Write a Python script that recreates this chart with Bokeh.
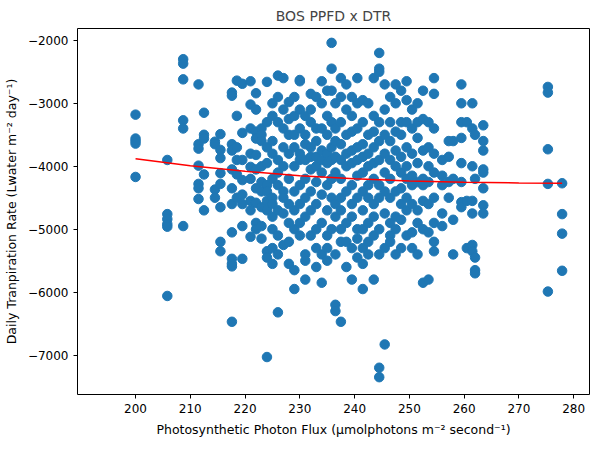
from bokeh.plotting import figure
from bokeh.models import ColumnDataSource, FixedTicker
from bokeh.embed import file_html
from bokeh.resources import INLINE

# photon flux columns and daily transpiration values
cols = {
    200.0: [-3180, -3560, -3600, -3640, -4170],
    205.8: [-3900, -4760, -4840, -4920, -4960, -6060],
    208.7: [-2300, -2370, -2620, -3270, -3400, -4950],
    211.5: [-2700, -3650, -3720, -3990, -4280, -4350, -4520],
    212.5: [-3150, -3500, -3560, -4130, -4700],
    214.5: [-3610, -3650, -4370, -4500],
    215.5: [-3490, -3740, -3870, -4110, -4280, -4650, -5200, -5350],
    217.6: [-2830, -2880, -3650, -3750, -4050, -4350, -4600, -5050, -5470, -5550, -5590, -6470],
    218.5: [-2640, -3200, -3700, -3900, -4130, -4500],
    219.5: [-2690, -3470, -3900, -4220, -4450, -4600, -4950, -5470],
    221.0: [-2650, -3020, -3400, -3800, -4010, -4200, -4550, -4700, -5120],
    222.0: [-2840, -3100, -3450, -3560, -3820, -4050, -4350, -4580, -4900, -5000],
    223.0: [-3400, -3500, -3600, -4000, -4250, -4400, -4650, -4950, -5150],
    224.0: [-2660, -3300, -3700, -3950, -4300, -4400, -4550, -4700, -5350, -5450, -7030],
    225.0: [-3000, -3200, -3600, -3800, -4200, -4500, -4600, -4800, -5000, -5300, -5550],
    226.0: [-2560, -2900, -3300, -3900, -4100, -4300, -4700, -5100, -5400, -6320],
    227.0: [-2600, -3100, -3400, -3700, -4000, -4400, -4500, -4750, -5250],
    228.0: [-2980, -3250, -3500, -3800, -4200, -4600, -4900, -5200, -5550],
    229.0: [-2900, -3200, -3500, -3700, -4000, -4400, -4700, -5000, -5650, -5950],
    230.0: [-2630, -2650, -3100, -3400, -3800, -3900, -4300, -4600, -4900, -5100],
    231.0: [-3200, -3500, -3650, -3900, -4200, -4500, -4800, -5400, -5500, -5800],
    232.0: [-2850, -3100, -3300, -3700, -3850, -4050, -4400, -4700, -5100],
    233.0: [-2900, -3400, -3600, -3850, -4000, -4250, -4600, -5000, -5300, -5600],
    234.0: [-2650, -3000, -3400, -3750, -3900, -4100, -4450, -4900, -5400, -5850],
    235.0: [-2800, -3200, -3500, -3800, -3950, -4300, -4700, -5100, -5300, -5500],
    235.8: [-2040, -2450, -2800, -3300, -3700, -3900, -4200, -4500, -5000],
    236.5: [-3000, -3400, -3600, -3850, -4100, -4600, -4800, -5400, -6200, -6300],
    237.5: [-2600, -2900, -3300, -3650, -3900, -4200, -4500, -4700, -5000, -5200, -6470],
    238.5: [-2700, -3100, -3500, -3800, -4000, -4400, -4900, -5200, -5600],
    239.5: [-2900, -3200, -3450, -3750, -3950, -4300, -4600, -4800, -5300, -5800],
    240.5: [-2600, -3000, -3400, -3700, -3900, -4150, -4500, -5000, -5150, -5450],
    241.5: [-2950, -3300, -3650, -3850, -4100, -4400, -4700, -5000, -5300, -5550, -5950],
    242.5: [-3000, -3500, -3800, -4000, -4300, -4500, -4900, -5200, -5400],
    243.5: [-2600, -3200, -3450, -3700, -3950, -4200, -4600, -4800, -5100, -5800],
    244.5: [-2200, -2450, -2500, -3300, -3600, -3900, -4300, -4500, -5000, -5400, -7200, -7350],
    245.5: [-2700, -3100, -3500, -3800, -4100, -4400, -4750, -5300, -6830],
    246.5: [-2900, -3300, -3600, -3900, -4200, -4500, -4900, -5100, -5200],
    247.5: [-2700, -3000, -3450, -3750, -4000, -4400, -4800, -5000, -5400],
    248.5: [-2800, -3300, -3500, -3850, -4100, -4350, -4600, -4850, -5300],
    249.5: [-2650, -2950, -3300, -3700, -4000, -4200, -4500, -4700, -5100],
    250.5: [-3100, -3400, -3800, -4150, -4300, -4600, -5050, -5300],
    251.5: [-3000, -3300, -3550, -3950, -4250, -4700, -4900, -5400],
    252.5: [-2800, -3250, -3750, -4200, -4300, -4550, -5000, -5850],
    253.5: [-3300, -3700, -4000, -4250, -4600, -5050, -5800],
    254.5: [-2600, -2850, -3400, -3800, -4100, -4500, -4900, -5200, -5350],
    256.0: [-3900, -4150, -4300, -4750, -4950],
    257.2: [-3600, -3850, -4250, -4500],
    258.0: [-3600, -4200, -4850, -5400],
    259.5: [-2700, -3000, -3300, -3550, -3950, -4250, -4570, -4650],
    260.5: [-3300, -4550, -5300],
    261.5: [-3000, -3400, -4000, -4550, -4750, -5250, -5350],
    262.0: [-3500, -4200, -5450, -5650, -5700],
    263.5: [-3350, -3600, -3750, -4050, -4100, -4350, -4620, -4750],
    275.3: [-2740, -2830, -3730, -4280, -5990],
    277.9: [-4270, -4760, -5070, -5660],
}

# red trend line
trend_x = [200, 210, 220, 230, 240, 250, 260, 270, 277.9]
trend_y = [-3880, -3990, -4080, -4150, -4200, -4235, -4255, -4265, -4270]

ppfd = []
dtr = []
for x, ys in cols.items():
    for y in ys:
        ppfd.append(x)
        dtr.append(y)

source = ColumnDataSource(dict(x=ppfd, y=dtr))

p = figure(width=593, height=446, output_backend="svg", toolbar_location=None,
           x_range=(189.4, 282.9), y_range=(-7625, -1812),
           title="BOS PPFD x DTR",
           x_axis_label="Photosynthetic Photon Flux (µmolphotons m⁻² second⁻¹)",
           y_axis_label="Daily Tranpiration Rate (Lwater m⁻² day⁻¹)",
           min_border_left=40, min_border_right=4, min_border_top=22, min_border_bottom=52)

p.scatter("x", "y", source=source, size=9.5, color="#1f77b4")
p.line(trend_x, trend_y, color="red", line_width=1.5)

p.title.align = "center"
p.title.text_font = "DejaVu Sans"
p.title.text_font_size = "14px"
p.title.text_font_style = "normal"
p.xgrid.visible = False
p.ygrid.visible = False
p.outline_line_color = "black"
p.xaxis.ticker = FixedTicker(ticks=list(range(200, 281, 10)))
p.yaxis.ticker = FixedTicker(ticks=list(range(-7000, -1999, 1000)))
for ax in (p.xaxis[0], p.yaxis[0]):
    ax.minor_tick_line_color = None
    ax.major_label_text_font = "DejaVu Sans"
    ax.major_label_text_font_size = "12px"
    ax.major_label_text_color = "black"
    ax.axis_label_text_font = "DejaVu Sans"
    ax.axis_label_text_font_size = "12.5px"
    ax.axis_label_text_font_style = "normal"
    ax.axis_label_text_color = "black"
    ax.axis_label_standoff = 6
    ax.major_tick_in = 0
    ax.major_tick_out = 4
    ax.axis_line_color = None

open("out.html", "w").write(file_html(p, INLINE))
